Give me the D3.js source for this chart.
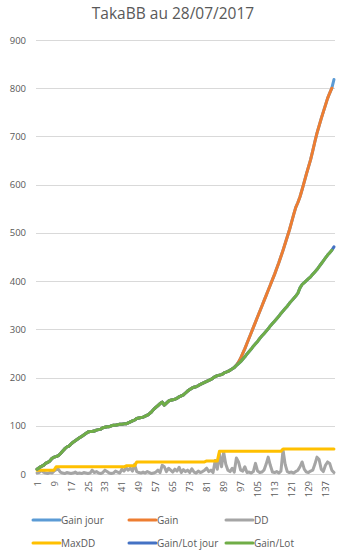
<!DOCTYPE html>
<html>
<head>
<meta charset="utf-8">
<script src="https://cdn.jsdelivr.net/npm/d3@7"></script>
<style>
  body { margin: 0; background: #fff; }
  text { font-family: "Open Sans", "Liberation Sans", sans-serif; fill: #595959; }
</style>
</head>
<body>
<svg id="chart" width="345" height="553"></svg>
<script>
// day numbers 1..141
var days = d3.range(1, 142);

var gainLotJour = [
  10, 13, 16, 18, 22, 24, 27, 32, 35, 36,
  38, 42, 47, 52, 56, 58, 62, 66, 69, 72,
  75, 78, 81, 84, 87, 88, 88, 89, 91, 92,
  93, 96, 97, 98, 98, 100, 101, 101, 102, 103,
  103, 104, 104, 106, 108, 110, 112, 115, 116, 117,
  118, 120, 122, 125, 129, 134, 138, 142, 146, 149,
  143, 147, 151, 153, 154, 155, 157, 160, 162, 164,
  168, 172, 175, 178, 180, 181, 183, 186, 188, 190,
  192, 194, 196, 199, 202, 204, 205, 206, 209, 211,
  213, 215, 218, 221, 225, 229, 233, 238, 243, 249,
  254, 259, 265, 270, 275, 281, 286, 291, 296, 301,
  307, 312, 317, 322, 327, 333, 338, 343, 348, 354,
  359, 364, 369, 375, 386, 393, 397, 401, 405, 409,
  414, 419, 424, 430, 436, 442, 448, 454, 459, 464,
  471
];

var gainJour = [
  10, 13, 16, 18, 22, 24, 27, 32, 35, 36,
  38, 42, 47, 52, 56, 58, 62, 66, 69, 72,
  75, 78, 81, 84, 87, 88, 88, 89, 91, 92,
  93, 96, 97, 98, 98, 100, 101, 101, 102, 103,
  103, 104, 104, 106, 108, 110, 112, 115, 116, 117,
  118, 120, 122, 125, 129, 134, 138, 142, 146, 149,
  143, 147, 151, 153, 154, 155, 157, 160, 162, 164,
  168, 172, 175, 178, 180, 181, 183, 186, 188, 190,
  192, 194, 196, 199, 202, 204, 205, 206, 209, 211,
  213, 215, 218, 221, 226, 232, 240, 250, 260, 271,
  282, 293, 304, 315, 326, 337, 348, 359, 370, 381,
  392, 403, 414, 426, 438, 451, 464, 478, 492, 506,
  522, 538, 553, 563, 575, 590, 606, 622, 637, 652,
  670, 689, 707, 722, 737, 751, 765, 779, 790, 800,
  818
];

// cumulative series stop one day before the "jour" series
var gain = gainJour.slice(0, 140);
var gainLot = gainLotJour.slice(0, 140);

var dd = [
  2, 3, 8, 4, 2, 1, 3, 2, 6, 9,
  10, 4, 2, 1, 3, 2, 1, 2, 4, 1,
  2, 1, 3, 2, 1, 2, 8, 3, 5, 2,
  1, 3, 8, 5, 2, 1, 2, 6, 4, 2,
  10, 6, 13, 8, 12, 6, 20, 5, 3, 2,
  4, 2, 5, 3, 1, 2, 4, 8, 3, 18,
  15, 5, 12, 8, 4, 10, 6, 14, 3, 9,
  5, 8, 3, 11, 4, 2, 6, 3, 5, 8,
  12, 5, 8, 3, 28, 10, 42, 15, 45, 20,
  8, 5, 12, 4, 33, 25, 8, 6, 15, 3,
  4, 2, 5, 22, 6, 3, 4, 8, 20, 35,
  18, 4, 3, 5, 2, 6, 50, 20, 5, 3,
  4, 2, 5, 8, 15, 25, 10, 4, 3, 6,
  8, 20, 35, 30, 10, 5, 18, 25, 22, 8,
  3
];

var maxDD = [
  8, 8, 8, 8, 8, 8, 8, 8, 8, 15,
  15, 15, 15, 15, 15, 15, 15, 15, 15, 15,
  15, 15, 15, 15, 15, 15, 15, 15, 15, 15,
  15, 15, 15, 15, 15, 15, 15, 15, 15, 15,
  15, 15, 17, 17, 17, 17, 17, 25, 25, 25,
  25, 25, 25, 25, 25, 25, 25, 25, 25, 25,
  25, 25, 25, 25, 25, 25, 25, 25, 25, 25,
  25, 25, 25, 25, 25, 25, 25, 25, 25, 25,
  27, 27, 27, 27, 27, 27, 47, 47, 47, 47,
  47, 47, 47, 47, 47, 47, 47, 47, 47, 47,
  47, 47, 47, 47, 47, 47, 47, 47, 47, 47,
  47, 47, 47, 47, 47, 47, 52, 52, 52, 52,
  52, 52, 52, 52, 52, 52, 52, 52, 52, 52,
  52, 52, 52, 52, 52, 52, 52, 52, 52, 52,
  52
];

var yTicks = [0, 100, 200, 300, 400, 500, 600, 700, 800, 900];

var series = [
  {name: "Gain jour", values: gainJour, color: "#5B9BD5"},
  {name: "Gain", values: gain, color: "#ED7D31"},
  {name: "DD", values: dd, color: "#A5A5A5"},
  {name: "MaxDD", values: maxDD, color: "#FFC000"},
  {name: "Gain/Lot jour", values: gainLotJour, color: "#4472C4"},
  {name: "Gain/Lot", values: gainLot, color: "#70AD47"}
];

var svg = d3.select("#chart");

var x = d3.scalePoint()
  .domain(days)
  .range([36, 335])
  .padding(0.5);

var y = d3.scaleLinear()
  .domain([0, 900])
  .range([474, 40]);

svg.append("text")
  .attr("x", 173)
  .attr("y", 19)
  .attr("text-anchor", "middle")
  .style("font-size", "15.5px")
  .text("TakaBB au 28/07/2017");

// gridlines
svg.append("g")
  .selectAll("line")
  .data(yTicks)
  .enter()
  .append("line")
  .attr("x1", 36)
  .attr("x2", 335)
  .attr("y1", d => Math.round(y(d)) + 0.5)
  .attr("y2", d => Math.round(y(d)) + 0.5)
  .attr("stroke", "#D9D9D9")
  .attr("stroke-width", 1);

var yAxis = svg.append("g")
  .attr("transform", "translate(36,0)")
  .call(d3.axisLeft(y).tickValues(yTicks).tickSize(0).tickPadding(10));
yAxis.select(".domain").remove();
yAxis.selectAll("text")
  .style("font-size", "9.5px")
  .style("font-family", "'Open Sans', sans-serif")
  .attr("fill", "#595959");

var xAxis = svg.append("g")
  .attr("transform", "translate(0,474)")
  .call(d3.axisBottom(x).tickValues(days.filter((d, i) => i % 8 === 0)).tickSize(0));
xAxis.select(".domain").remove();
xAxis.selectAll("text")
  .attr("transform", "rotate(-90)")
  .attr("x", -7)
  .attr("y", 0)
  .attr("dy", "0.32em")
  .style("text-anchor", "end")
  .style("font-size", "9.5px")
  .style("font-family", "'Open Sans', sans-serif")
  .attr("fill", "#595959");

var line = d3.line()
  .x((d, i) => x(days[i]))
  .y(d => y(d));

svg.append("g")
  .selectAll("path")
  .data(series)
  .enter()
  .append("path")
  .attr("d", d => line(d.values))
  .attr("fill", "none")
  .attr("stroke", d => d.color)
  .attr("stroke-width", 3)
  .attr("stroke-linejoin", "round")
  .attr("stroke-linecap", "round");

// legend, 3 per row
var legend = svg.selectAll(".legend")
  .data(series)
  .enter()
  .append("g")
  .attr("class", "legend")
  .attr("transform", (d, i) => "translate(" + [33, 129, 226][i % 3] + "," + (520 + Math.floor(i / 3) * 23) + ")");

legend.append("line")
  .attr("x1", 0)
  .attr("x2", 27)
  .attr("stroke", d => d.color)
  .attr("stroke-width", 3)
  .attr("stroke-linecap", "round");

legend.append("text")
  .attr("x", 28)
  .attr("dy", "0.35em")
  .style("font-size", "10px")
  .text(d => d.name);
</script>
</body>
</html>
